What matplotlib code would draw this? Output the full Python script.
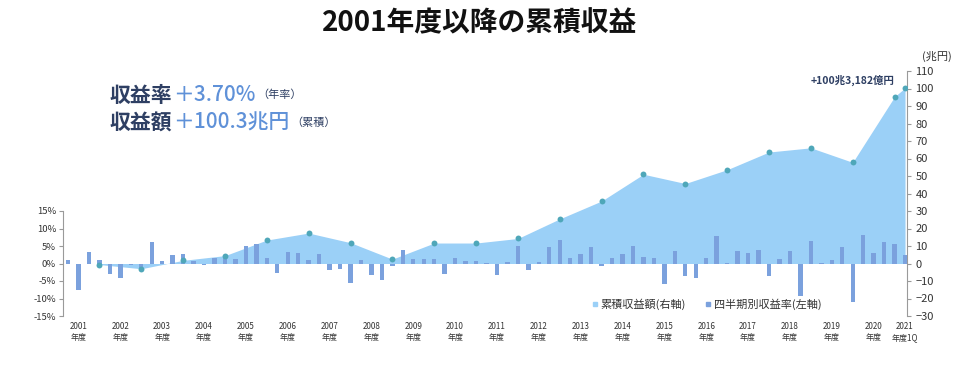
import matplotlib
matplotlib.use("Agg")
import matplotlib.pyplot as plt
from matplotlib.lines import Line2D
import numpy as np

plt.rcParams['font.family'] = ['Noto Sans CJK JP', 'DejaVu Sans']

# fiscal years shown on the x axis (quarterly categories, 2001Q1 .. 2021Q1)
years = list(range(2001, 2022))

# quarterly return (%), left axis
quarterly_pct = [
    1.1, -7.7, 3.2, 0.9,     # 2001
    -3.1, -4.0, -0.4, -1.5,  # 2002
    6.2, 0.8, 2.4, 2.7,      # 2003
    0.7, -0.3, 1.6, 2.1,     # 2004
    1.2, 5.0, 5.5, 1.7,      # 2005
    -2.7, 3.2, 3.0, 1.1,     # 2006
    2.7, -1.9, -1.6, -5.5,   # 2007
    1.1, -3.3, -4.7, -0.8,   # 2008
    3.9, 1.2, 1.3, 1.3,      # 2009
    -3.1, 1.5, 0.7, 0.6,     # 2010
    0.2, -3.4, 0.3, 5.1,     # 2011
    -1.9, 0.3, 4.8, 6.7,     # 2012
    1.7, 2.7, 4.6, -0.8,     # 2013
    1.7, 2.7, 5.1, 2.0,      # 2014
    1.7, -5.8, 3.5, -3.7,    # 2015
    -4.1, 1.7, 7.9, 0.2,     # 2016
    3.5, 2.9, 3.8, -3.6,     # 2017
    1.4, 3.5, -9.3, 6.3,     # 2018
    0.2, 1.1, 4.6, -10.9,    # 2019
    8.2, 2.9, 6.1, 5.6,      # 2020
    2.5,                     # 2021 1Q
]

# cumulative return (trillion yen) at each fiscal-year end, right axis
cumulative = [-0.6, -3.0, 1.8, 4.5, 13.4, 17.4, 11.9, 2.5, 11.7, 11.7,
              14.3, 25.5, 35.7, 51.0, 45.7, 53.6, 63.7, 66.1, 57.8, 95.3,
              100.3]

year_labels = [f"{y}\n年度" for y in years[:-1]] + ["2021\n年度1Q"]

C_AREA = "#9BD0F7"
C_BAR = "#7BA1DD"
C_DOT = "#4FA7B9"
C_NAVY = "#2E3F63"
C_BLUE = "#5F91D8"
C_SPINE = "#9A9A9A"
C_TICK = "#333333"

n_q = len(quarterly_pct)
xq = np.arange(n_q)
# year-end index of each cumulative point (Q4, last one is 2021 1Q)
xc = [4 * i + 3 for i in range(len(cumulative) - 1)] + [n_q - 1]

fig = plt.figure(figsize=(9.6, 3.69), dpi=100)
rect = [63 / 960, 1 - 316 / 369, (907 - 63) / 960, (316 - 71) / 369]

ax_r = fig.add_axes(rect)              # area, right scale
ax_l = ax_r.twinx()                    # bars, left scale
ax_d = ax_r.twinx()                    # dots on top, right scale
ax_r.set_zorder(1)
ax_l.set_zorder(2)
ax_d.set_zorder(3)
for a in (ax_l, ax_d):
    a.patch.set_visible(False)

for a in (ax_r, ax_l, ax_d):
    for s in a.spines.values():
        s.set_visible(False)
ax_r.set_xlim(-0.48, 80.19)
ax_r.set_ylim(-30, 110)
ax_d.set_ylim(-30, 110)
ax_l.set_ylim(-15, 55)

ax_r.fill_between(xc, cumulative, 0, color=C_AREA, linewidth=0)
ax_l.bar(xq, quarterly_pct, width=0.42, color=C_BAR)
ax_d.scatter(xc, cumulative, s=18, color=C_DOT, zorder=3, linewidths=0)

# right axis
ax_r.yaxis.tick_right()
ax_r.spines['right'].set_visible(True)
ax_r.spines['right'].set_color(C_SPINE)
ax_r.spines['right'].set_bounds(-30, 110)
r_ticks = list(range(-30, 111, 10))
ax_r.set_yticks(r_ticks)
ax_r.set_yticklabels([str(t).replace("-", "−") for t in r_ticks],
                     fontsize=8, color=C_TICK)
ax_r.tick_params(axis='y', direction='out', length=3, color=C_SPINE, pad=3)

# left axis
ax_l.yaxis.tick_left()
ax_l.spines['left'].set_visible(True)
ax_l.spines['left'].set_color(C_SPINE)
ax_l.spines['left'].set_bounds(-15, 15)
l_ticks = list(range(-15, 16, 5))
ax_l.set_yticks(l_ticks)
ax_l.set_yticklabels([f"{t}%" for t in l_ticks], fontsize=6.8, color=C_TICK)
ax_l.tick_params(axis='y', direction='out', length=3, color=C_SPINE, pad=2)

ax_d.set_yticks([])

# x labels (x axis is shared by the twins)
label_pos = [4 * i + 1 for i in range(len(years) - 1)] + [n_q - 1]
ax_r.set_xticks(label_pos)
ax_r.set_xticklabels(year_labels, fontsize=5.8, color=C_TICK, linespacing=1.35)
ax_r.tick_params(axis='x', length=0, pad=4)

ax_d.text(75, 104.8, "+100兆3,182億円", ha='center', va='center',
          fontsize=7.5, fontweight='bold', color=C_NAVY)
fig.text(937 / 960, 1 - 56 / 369, "(兆円)", ha='center', va='center',
         fontsize=8, color=C_TICK)

# legend
handles = [Line2D([], [], marker='s', linestyle='none', markersize=3.5,
                  color=C_AREA, label="累積収益額(右軸)"),
           Line2D([], [], marker='s', linestyle='none', markersize=3.5,
                  color=C_BAR, label="四半期別収益率(左軸)")]
fig.legend(handles=handles, loc='center', bbox_to_anchor=(706 / 960, 1 - 304 / 369),
           ncol=2, frameon=False, fontsize=8, handletextpad=0.1,
           columnspacing=1.6, handlelength=0.8, labelcolor=C_TICK)

# title
fig.text(0.5, 1 - 23 / 369, "2001年度以降の累積収益", ha='center', va='center',
         fontsize=20, fontweight='bold', color="#111111")

# headline figures, pieces chained left to right
renderer = fig.canvas.get_renderer()


def chain(x_px, y_px, parts):
    x = x_px
    for txt, size, weight, color in parts:
        t = fig.text(x / 960, 1 - y_px / 369, txt, ha='left', va='center',
                     fontsize=size, fontweight=weight, color=color)
        bb = t.get_window_extent(renderer)
        x = bb.x1 + 1


chain(110, 95, [("収益率", 15, 'bold', C_NAVY),
                ("＋3.70%", 15, 'medium', C_BLUE),
                ("（年率）", 8, 'normal', C_NAVY)])
chain(110, 123, [("収益額", 15, 'bold', C_NAVY),
                 ("＋100.3兆円", 15, 'medium', C_BLUE),
                 ("（累積）", 8, 'normal', C_NAVY)])

fig.savefig("out.png", dpi=100)
